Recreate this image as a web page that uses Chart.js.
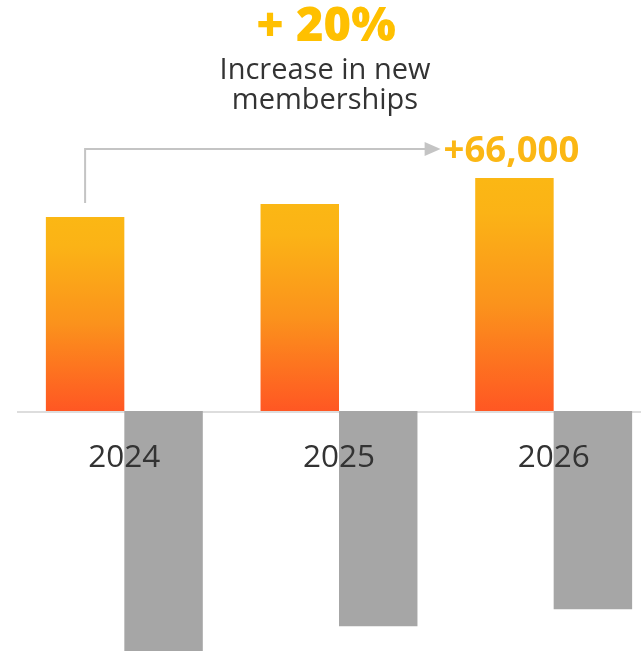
<!DOCTYPE html>
<html>
<head>
<meta charset="utf-8">
<script src="https://cdn.jsdelivr.net/npm/chart.js@4/dist/chart.umd.min.js"></script>
<style>
  html, body { margin: 0; padding: 0; background: #fff; overflow: hidden; }
  #wrap { position: relative; width: 641px; height: 651px; overflow: hidden; }
  #box { position: absolute; left: 0; top: 0; width: 661px; height: 651px; }
</style>
</head>
<body>
<div id="wrap"><div id="box"><canvas id="myChart"></canvas></div></div>
<script>
// dati
const anni = ['2024', '2025', '2026'];
const nuoviSoci = [330000, 352000, 396000];
const sociPersi = [-410000, -366000, -337000];
const titolo = '+ 20%';
const sottotitolo = ['Increase in new', 'memberships'];
const crescita = '+66,000';

const giallo = '#FBB714';
const grigio = '#A6A6A6';
const testo = '#333333';
const font = "'Open Sans', 'Noto Sans', sans-serif";

function gradiente(context) {
  const chart = context.chart;
  const area = chart.chartArea;
  if (!area || !context.parsed) return giallo;
  const y = chart.scales.y;
  const top = y.getPixelForValue(context.parsed.y);
  const bottom = y.getPixelForValue(0);
  const g = chart.ctx.createLinearGradient(0, top, 0, bottom);
  g.addColorStop(0, '#FBB714');
  g.addColorStop(0.15, '#FBB316');
  g.addColorStop(0.55, '#FB921C');
  g.addColorStop(1, '#FF5723');
  return g;
}

// linea dello zero sotto le barre
const lineaZero = {
  id: 'lineaZero',
  beforeDatasetsDraw(chart) {
    const ctx = chart.ctx;
    const y0 = chart.scales.y.getPixelForValue(0);
    ctx.save();
    ctx.strokeStyle = '#DDDDDD';
    ctx.lineWidth = 2;
    ctx.beginPath();
    ctx.moveTo(chart.chartArea.left, y0 + 1);
    ctx.lineTo(chart.chartArea.right, y0 + 1);
    ctx.stroke();
    ctx.restore();
  }
};

// testi, freccia ed etichette degli anni sopra le barre
const scritte = {
  id: 'scritte',
  afterDatasetsDraw(chart) {
    const ctx = chart.ctx;
    const x = chart.scales.x;
    const y = chart.scales.y;
    const bars = chart.getDatasetMeta(0).data;
    ctx.save();
    ctx.textAlign = 'center';
    ctx.textBaseline = 'middle';

    // anni
    ctx.fillStyle = testo;
    ctx.font = '31.5px ' + font;
    anni.forEach((a, i) => {
      ctx.fillText(a, x.getPixelForValue(i), y.getPixelForValue(0) + 47);
    });

    // titolo
    ctx.fillStyle = '#FFC000';
    ctx.font = '800 47px ' + font;
    ctx.fillText(titolo, 326, 28);
    ctx.fillStyle = testo;
    ctx.font = '29px ' + font;
    ctx.fillText(sottotitolo[0], 325, 71);
    ctx.fillText(sottotitolo[1], 325, 101);

    // freccia dalla prima all'ultima barra
    const primo = bars[0];
    const ultimo = bars[bars.length - 1];
    const yFreccia = 149;
    ctx.font = 'bold 36.5px ' + font;
    const larg = ctx.measureText(crescita).width;
    const xFine = ultimo.x - larg / 2 - 6;
    ctx.strokeStyle = '#C4C4C4';
    ctx.lineWidth = 2;
    ctx.beginPath();
    ctx.moveTo(primo.x, primo.y - 14);
    ctx.lineTo(primo.x, yFreccia);
    ctx.lineTo(xFine - 14, yFreccia);
    ctx.stroke();
    ctx.fillStyle = '#C4C4C4';
    ctx.beginPath();
    ctx.moveTo(xFine - 16, yFreccia - 7);
    ctx.lineTo(xFine, yFreccia);
    ctx.lineTo(xFine - 16, yFreccia + 7);
    ctx.closePath();
    ctx.fill();

    ctx.fillStyle = giallo;
    ctx.fillText(crescita, ultimo.x - 3, yFreccia + 3);
    ctx.restore();
  }
};

const ctx = document.getElementById('myChart').getContext('2d');
const chart = new Chart(ctx, {
  type: 'bar',
  data: {
    labels: anni,
    datasets: [
      {
        label: 'New memberships',
        data: nuoviSoci,
        backgroundColor: gradiente,
        borderWidth: 0
      },
      {
        label: 'Lost memberships',
        data: sociPersi,
        backgroundColor: grigio,
        borderWidth: 0
      }
    ]
  },
  options: {
    responsive: true,
    maintainAspectRatio: false,
    animation: false,
    datasets: {
      bar: { categoryPercentage: 0.731, barPercentage: 1 }
    },
    layout: { padding: { left: 17, right: 0, top: 0, bottom: 0 } },
    plugins: {
      legend: { display: false },
      tooltip: { enabled: false }
    },
    scales: {
      x: { display: false },
      y: { display: false, min: -408000, max: 698700 }
    }
  },
  plugins: [lineaZero, scritte]
});
</script>
</body>
</html>
